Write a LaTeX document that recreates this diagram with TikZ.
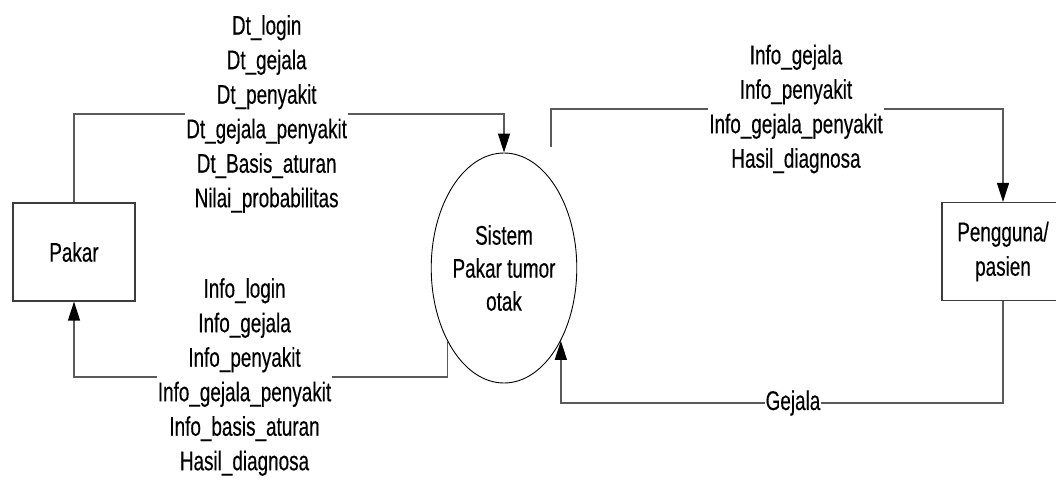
\documentclass[tikz,border=0pt]{standalone}
\usepackage{fontspec}
\setmainfont{Liberation Sans}[FakeStretch=0.7,FakeBold=0.3]
\usetikzlibrary{arrows.meta,shapes.geometric}
\definecolor{linegray}{HTML}{5A5A5A}
\definecolor{boxgray}{HTML}{3C3C3C}

\begin{document}
\begin{tikzpicture}[x=1pt,y=-1pt,
  every node/.style={font=\fontsize{27}{34.5}\selectfont},
  entity/.style={draw=boxgray, line width=1.2pt, minimum width=122pt,
    minimum height=98pt, inner sep=0pt, align=center},
  process/.style={ellipse, draw=black, line width=0.9pt, minimum width=144pt,
    minimum height=230pt, inner sep=0pt, align=center},
  flow/.style={draw=linegray, line width=1.3pt,
    -{Triangle[length=19pt,width=12pt,color=black,fill=black]}},
  lbl/.style={fill=white, align=center, inner ysep=0pt, inner xsep=1pt}]

\clip (0,0) rectangle (1056,479);

% external entities and the process
\node[entity] (pakar) at (74,252) {Pakar};
\node[entity] (user) at (1003,251.5) {Pengguna/\\pasien};
\node[process, font=\fontsize{27}{33}\selectfont] (sys) at (504,268)
  {Sistem\\Pakar tumor\\otak};

% routing levels of the data flows
\coordinate (toplevel) at (0,114);
\coordinate (lowlevel) at (0,377);
\coordinate (rightlevel) at (0,109);
\coordinate (gejalalevel) at (0,403);
\coordinate (outstart) at (551,147);

% Pakar -> Sistem
\draw[flow] (pakar.north) -- (pakar.north |- toplevel)
  -- node[lbl, pos=0.448] {Dt\_login\\Dt\_gejala\\Dt\_penyakit\\Dt\_gejala\_penyakit\\Dt\_Basis\_aturan\\Nilai\_probabilitas}
  (sys.north |- toplevel) -- (sys.north);

% Sistem -> Pakar
\draw[flow] (sys.232) -- (sys.232 |- lowlevel)
  -- node[lbl, pos=0.543] {Info\_login\\Info\_gejala\\Info\_penyakit\\Info\_gejala\_penyakit\\Info\_basis\_aturan\\Hasil\_diagnosa}
  (pakar.south |- lowlevel) -- (pakar.south);

% Sistem -> Pengguna/pasien
\draw[flow] (outstart) -- (outstart |- rightlevel)
  -- node[lbl, pos=0.542] {Info\_gejala\\Info\_penyakit\\Info\_gejala\_penyakit\\Hasil\_diagnosa}
  (user.north |- rightlevel) -- (user.north);

% Pengguna/pasien -> Sistem
\draw[flow] (user.south) -- (user.south |- gejalalevel)
  -- node[lbl, pos=0.475] {Gejala}
  (sys.308 |- gejalalevel) -- (sys.308);
\end{tikzpicture}
\end{document}
